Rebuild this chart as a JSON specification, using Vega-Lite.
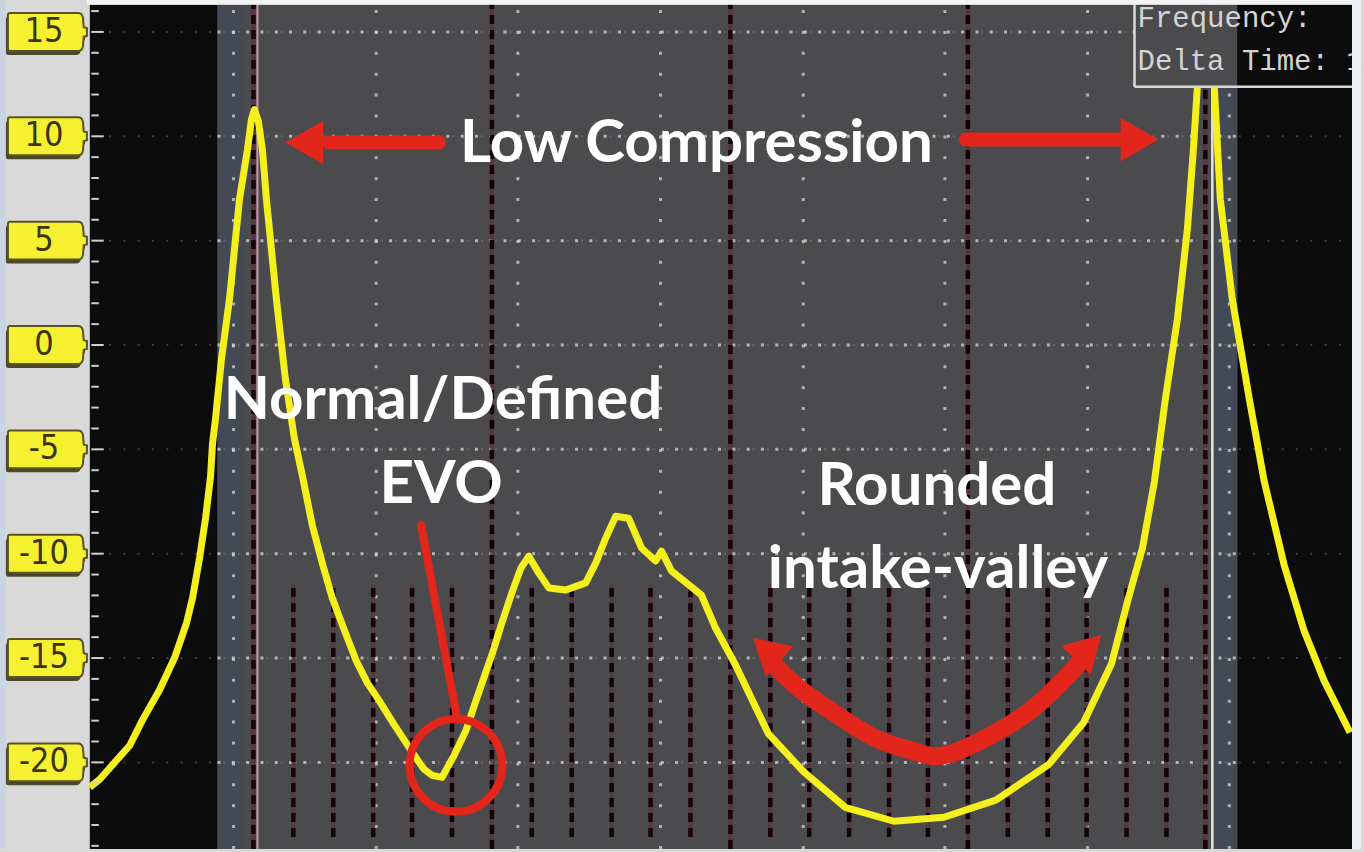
{
  "$schema": "https://vega.github.io/schema/vega-lite/v6.json",
  "width": 1364,
  "height": 852,
  "autosize": {"type": "fit", "contains": "padding"},
  "padding": 0,
  "background": "#d9d9d9",
  "config": {"view": {"stroke": null}},
  "datasets": {
    "trace": [
      {"t": 0, "v": -21.19}, {"t": 2, "v": -20.81}, {"t": 5, "v": -20.0}, {"t": 8, "v": -19.19},
      {"t": 10.6, "v": -17.95}, {"t": 14, "v": -16.52}, {"t": 17, "v": -14.99}, {"t": 19.4, "v": -13.31},
      {"t": 20.6, "v": -12.12}, {"t": 22, "v": -10.21}, {"t": 23.2, "v": -8.30}, {"t": 24.2, "v": -6.30},
      {"t": 24.6, "v": -4.72}, {"t": 25.2, "v": -3.53}, {"t": 26.4, "v": -0.66}, {"t": 28, "v": 2.20},
      {"t": 30, "v": 6.98}, {"t": 31.6, "v": 9.37}, {"t": 32.4, "v": 10.80}, {"t": 33, "v": 11.28},
      {"t": 33.8, "v": 10.70}, {"t": 34.6, "v": 9.37}, {"t": 35.4, "v": 6.98}, {"t": 37.4, "v": 2.20},
      {"t": 39.2, "v": -1.62}, {"t": 41, "v": -4.48}, {"t": 42.6, "v": -6.25}, {"t": 44.6, "v": -8.64},
      {"t": 46.6, "v": -10.45}, {"t": 48.6, "v": -12.12}, {"t": 51, "v": -13.65}, {"t": 53.4, "v": -15.13},
      {"t": 55.6, "v": -16.18}, {"t": 58, "v": -17.04}, {"t": 61, "v": -18.19}, {"t": 64, "v": -19.28},
      {"t": 65.6, "v": -19.86}, {"t": 67, "v": -20.33}, {"t": 68.6, "v": -20.62}, {"t": 70.6, "v": -20.72},
      {"t": 73, "v": -19.67}, {"t": 75.4, "v": -18.47}, {"t": 77.4, "v": -17.04}, {"t": 79, "v": -15.94},
      {"t": 80.6, "v": -14.84}, {"t": 82.6, "v": -13.31}, {"t": 84.6, "v": -11.88}, {"t": 86.4, "v": -10.69},
      {"t": 88, "v": -10.12}, {"t": 90, "v": -10.93}, {"t": 92, "v": -11.64}, {"t": 95.4, "v": -11.74},
      {"t": 99.4, "v": -11.40}, {"t": 101.4, "v": -10.45}, {"t": 103.4, "v": -9.26}, {"t": 105.4, "v": -8.21},
      {"t": 108, "v": -8.30}, {"t": 110.6, "v": -9.73}, {"t": 113.4, "v": -10.35}, {"t": 114.6, "v": -9.88},
      {"t": 116.6, "v": -10.83}, {"t": 119.6, "v": -11.40}, {"t": 122.6, "v": -11.98}, {"t": 125.4, "v": -13.55},
      {"t": 129.4, "v": -15.32}, {"t": 136, "v": -18.62}, {"t": 143, "v": -20.43}, {"t": 151.4, "v": -22.15},
      {"t": 161.2, "v": -22.82}, {"t": 171.2, "v": -22.63}, {"t": 181.6, "v": -21.81}, {"t": 192.2, "v": -20.10},
      {"t": 199.2, "v": -18.09}, {"t": 204.8, "v": -15.27}, {"t": 208.2, "v": -12.12}, {"t": 211, "v": -9.73},
      {"t": 213.4, "v": -6.53}, {"t": 215.6, "v": -2.57}, {"t": 218, "v": 1.25}, {"t": 220, "v": 5.55},
      {"t": 221.2, "v": 9.37}, {"t": 222, "v": 12.37}, {"t": 223, "v": 14.14}, {"t": 224, "v": 14.62},
      {"t": 224.8, "v": 14.14}, {"t": 225.4, "v": 12.37}, {"t": 226.6, "v": 6.98}, {"t": 229, "v": 2.20},
      {"t": 232.4, "v": -2.57}, {"t": 235.4, "v": -6.53}, {"t": 239.4, "v": -10.55}, {"t": 243.4, "v": -13.70},
      {"t": 247.4, "v": -16.08}, {"t": 252.6, "v": -18.57}
    ],
    "grid": [
      {"v": 15, "label": "15"}, {"v": 10, "label": "10"}, {"v": 5, "label": "5"}, {"v": 0, "label": "0"},
      {"v": -5, "label": "-5"}, {"v": -10, "label": "-10"}, {"v": -15, "label": "-15"}, {"v": -20, "label": "-20"}
    ],
    "minor": [
      {"v": 16}, {"v": 14}, {"v": 13}, {"v": 12}, {"v": 11}, {"v": 9}, {"v": 8}, {"v": 7}, {"v": 6},
      {"v": 4}, {"v": 3}, {"v": 2}, {"v": 1}, {"v": -1}, {"v": -2}, {"v": -3}, {"v": -4},
      {"v": -6}, {"v": -7}, {"v": -8}, {"v": -9}, {"v": -11}, {"v": -12}, {"v": -13}, {"v": -14},
      {"v": -16}, {"v": -17}, {"v": -18}, {"v": -19}, {"v": -21}, {"v": -22}, {"v": -23}, {"v": -24}
    ],
    "cols": [
      {"t": 28.8}, {"t": 57.4}, {"t": 85.8}, {"t": 114.4}, {"t": 143}, {"t": 171.4}, {"t": 200}, {"t": 228.4}
    ],
    "tall": [{"t": 32.8}, {"t": 80.6}, {"t": 128.4}, {"t": 176}, {"t": 223.6}],
    "short": [
      {"t": 40.8}, {"t": 48.8}, {"t": 56.8}, {"t": 64.6}, {"t": 72.6},
      {"t": 88.6}, {"t": 96.6}, {"t": 104.6}, {"t": 112.4}, {"t": 120.4},
      {"t": 136.4}, {"t": 144.2}, {"t": 152.2}, {"t": 160.2}, {"t": 168},
      {"t": 184}, {"t": 192}, {"t": 199.8}, {"t": 207.8}, {"t": 215.8}
    ],
    "strips": [{"t1": 25.6, "t2": 31}, {"t1": 225.6, "t2": 230}],
    "shafts": [{"t1": 48, "t2": 70, "v": 9.70}, {"t1": 175.6, "t2": 207, "v": 9.84}],
    "evoline": [{"t": 66.4, "v": -8.64}, {"t": 73.6, "v": -17.85}],
    "arc": [
      {"t": 136.8, "v": -15.22}, {"t": 142, "v": -16.42}, {"t": 150, "v": -17.76}, {"t": 158, "v": -18.90},
      {"t": 166, "v": -19.52}, {"t": 172, "v": -19.62}, {"t": 181.6, "v": -18.57}, {"t": 188, "v": -17.61},
      {"t": 192.2, "v": -16.75}, {"t": 196, "v": -15.85}, {"t": 198.8, "v": -15.08}
    ],
    "notes": [
      {"text": "Low Compression", "t": 121.6, "v": 8.79},
      {"text": "Normal/Defined", "t": 70.8, "v": -3.53},
      {"text": "EVO", "t": 70.4, "v": -7.58},
      {"text": "Rounded", "t": 169.8, "v": -7.68},
      {"text": "intake-valley", "t": 170, "v": -11.64}
    ],
    "readout": [
      {"text": "Frequency:", "t": 210, "v": 15.24},
      {"text": "Delta Time: 1", "t": 210, "v": 13.19}
    ]
  },
  "layer": [
    {
      "data": {"values": [{}]},
      "mark": {"type": "rect", "color": "#c9d5e2"},
      "encoding": {
        "x": {"datum": -18, "type": "quantitative", "scale": {"domain": [-18, 254.8], "nice": false, "zero": false}, "axis": null},
        "x2": {"datum": -16.8},
        "y": {"datum": -24.15, "type": "quantitative", "scale": {"domain": [-24.15, 16.53], "nice": false, "zero": false}, "axis": null},
        "y2": {"datum": 16.53}
      }
    },
    {
      "data": {"values": [{}]},
      "mark": {"type": "rect", "color": "#0c0c0d"},
      "encoding": {
        "x": {"datum": 0, "type": "quantitative", "scale": {"domain": [-18, 254.8], "nice": false, "zero": false}, "axis": null},
        "x2": {"datum": 253},
        "y": {"datum": -24.15, "type": "quantitative", "scale": {"domain": [-24.15, 16.53], "nice": false, "zero": false}, "axis": null},
        "y2": {"datum": 16.3}
      }
    },
    {
      "data": {"values": [{}]},
      "mark": {"type": "rect", "color": "#4b4b4e"},
      "encoding": {
        "x": {"datum": 25.6, "type": "quantitative", "scale": {"domain": [-18, 254.8], "nice": false, "zero": false}, "axis": null},
        "x2": {"datum": 230},
        "y": {"datum": -24.15, "type": "quantitative", "scale": {"domain": [-24.15, 16.53], "nice": false, "zero": false}, "axis": null},
        "y2": {"datum": 16.3}
      }
    },
    {
      "data": {"name": "strips"},
      "mark": {"type": "rect", "color": "#434a55"},
      "encoding": {
        "x": {"field": "t1", "type": "quantitative", "scale": {"domain": [-18, 254.8], "nice": false, "zero": false}, "axis": null},
        "x2": {"field": "t2"},
        "y": {"datum": -24.15, "type": "quantitative", "scale": {"domain": [-24.15, 16.53], "nice": false, "zero": false}, "axis": null},
        "y2": {"datum": 16.3}
      }
    },
    {
      "data": {"name": "grid"},
      "mark": {"type": "rule", "color": "#9a9a9a", "strokeWidth": 2, "strokeDash": [2, 12.3], "opacity": 0.35},
      "encoding": {
        "x": {"datum": 1, "type": "quantitative", "scale": {"domain": [-18, 254.8], "nice": false, "zero": false}, "axis": null},
        "x2": {"datum": 253},
        "y": {"field": "v", "type": "quantitative", "scale": {"domain": [-24.15, 16.53], "nice": false, "zero": false}, "axis": null}
      }
    },
    {
      "data": {"name": "grid"},
      "mark": {"type": "rule", "color": "#d8d8d8", "strokeWidth": 3, "strokeDash": [3, 11.3], "opacity": 0.75},
      "encoding": {
        "x": {"datum": 25.6, "type": "quantitative", "scale": {"domain": [-18, 254.8], "nice": false, "zero": false}, "axis": null},
        "x2": {"datum": 230},
        "y": {"field": "v", "type": "quantitative", "scale": {"domain": [-24.15, 16.53], "nice": false, "zero": false}, "axis": null}
      }
    },
    {
      "data": {"name": "cols"},
      "mark": {"type": "rule", "color": "#d4d4d4", "strokeWidth": 3, "strokeDash": [3, 17.9], "opacity": 0.75},
      "encoding": {
        "x": {"field": "t", "type": "quantitative", "scale": {"domain": [-18, 254.8], "nice": false, "zero": false}, "axis": null},
        "y": {"datum": -24.15, "type": "quantitative", "scale": {"domain": [-24.15, 16.53], "nice": false, "zero": false}, "axis": null},
        "y2": {"datum": 16.3}
      }
    },
    {
      "data": {"values": [{}]},
      "mark": {"type": "rule", "color": "#c89aa5", "strokeWidth": 2},
      "encoding": {
        "x": {"datum": 33.6, "type": "quantitative", "scale": {"domain": [-18, 254.8], "nice": false, "zero": false}, "axis": null},
        "y": {"datum": -24.15, "type": "quantitative", "scale": {"domain": [-24.15, 16.53], "nice": false, "zero": false}, "axis": null},
        "y2": {"datum": 16.3}
      }
    },
    {
      "data": {"name": "tall"},
      "mark": {"type": "rule", "color": "#5e2a3a", "strokeWidth": 4, "opacity": 0.7},
      "encoding": {
        "x": {"field": "t", "type": "quantitative", "scale": {"domain": [-18, 254.8], "nice": false, "zero": false}, "axis": null},
        "y": {"datum": -24.15, "type": "quantitative", "scale": {"domain": [-24.15, 16.53], "nice": false, "zero": false}, "axis": null},
        "y2": {"datum": 16.3}
      }
    },
    {
      "data": {"name": "tall"},
      "mark": {"type": "rule", "color": "#14040a", "strokeWidth": 4.5, "strokeDash": [9, 6]},
      "encoding": {
        "x": {"field": "t", "type": "quantitative", "scale": {"domain": [-18, 254.8], "nice": false, "zero": false}, "axis": null},
        "y": {"datum": -24.15, "type": "quantitative", "scale": {"domain": [-24.15, 16.53], "nice": false, "zero": false}, "axis": null},
        "y2": {"datum": 16.3}
      }
    },
    {
      "data": {"name": "short"},
      "mark": {"type": "rule", "color": "#5e2a3a", "strokeWidth": 4, "opacity": 0.6},
      "encoding": {
        "x": {"field": "t", "type": "quantitative", "scale": {"domain": [-18, 254.8], "nice": false, "zero": false}, "axis": null},
        "y": {"datum": -23.58, "type": "quantitative", "scale": {"domain": [-24.15, 16.53], "nice": false, "zero": false}, "axis": null},
        "y2": {"datum": -11.5}
      }
    },
    {
      "data": {"name": "short"},
      "mark": {"type": "rule", "color": "#14040a", "strokeWidth": 4.5, "strokeDash": [9, 6]},
      "encoding": {
        "x": {"field": "t", "type": "quantitative", "scale": {"domain": [-18, 254.8], "nice": false, "zero": false}, "axis": null},
        "y": {"datum": -23.58, "type": "quantitative", "scale": {"domain": [-24.15, 16.53], "nice": false, "zero": false}, "axis": null},
        "y2": {"datum": -11.5}
      }
    },
    {
      "data": {"values": [{}]},
      "mark": {"type": "rule", "color": "#e8e2e2", "strokeWidth": 2.5},
      "encoding": {
        "x": {"datum": 225, "type": "quantitative", "scale": {"domain": [-18, 254.8], "nice": false, "zero": false}, "axis": null},
        "y": {"datum": -24.15, "type": "quantitative", "scale": {"domain": [-24.15, 16.53], "nice": false, "zero": false}, "axis": null},
        "y2": {"datum": 12.37}
      }
    },
    {
      "data": {"name": "trace"},
      "mark": {"type": "line", "color": "#f4f01e", "strokeWidth": 7, "strokeJoin": "round"},
      "encoding": {
        "x": {"field": "t", "type": "quantitative", "scale": {"domain": [-18, 254.8], "nice": false, "zero": false}, "axis": null},
        "y": {"field": "v", "type": "quantitative", "scale": {"domain": [-24.15, 16.53], "nice": false, "zero": false}, "axis": null}
      }
    },
    {
      "data": {"name": "shafts"},
      "mark": {"type": "rule", "color": "#e3261b", "strokeWidth": 14, "strokeCap": "round"},
      "encoding": {
        "x": {"field": "t1", "type": "quantitative", "scale": {"domain": [-18, 254.8], "nice": false, "zero": false}, "axis": null},
        "x2": {"field": "t2"},
        "y": {"field": "v", "type": "quantitative", "scale": {"domain": [-24.15, 16.53], "nice": false, "zero": false}, "axis": null}
      }
    },
    {
      "data": {"values": [{}]},
      "mark": {"type": "point", "shape": "triangle-left", "size": 1900, "filled": true, "color": "#e3261b", "opacity": 1},
      "encoding": {
        "x": {"datum": 43, "type": "quantitative", "scale": {"domain": [-18, 254.8], "nice": false, "zero": false}, "axis": null},
        "y": {"datum": 9.70, "type": "quantitative", "scale": {"domain": [-24.15, 16.53], "nice": false, "zero": false}, "axis": null}
      }
    },
    {
      "data": {"values": [{}]},
      "mark": {"type": "point", "shape": "triangle-right", "size": 1900, "filled": true, "color": "#e3261b", "opacity": 1},
      "encoding": {
        "x": {"datum": 210.4, "type": "quantitative", "scale": {"domain": [-18, 254.8], "nice": false, "zero": false}, "axis": null},
        "y": {"datum": 9.84, "type": "quantitative", "scale": {"domain": [-24.15, 16.53], "nice": false, "zero": false}, "axis": null}
      }
    },
    {
      "data": {"name": "evoline"},
      "mark": {"type": "line", "color": "#e3261b", "strokeWidth": 8, "strokeCap": "round"},
      "encoding": {
        "x": {"field": "t", "type": "quantitative", "scale": {"domain": [-18, 254.8], "nice": false, "zero": false}, "axis": null},
        "y": {"field": "v", "type": "quantitative", "scale": {"domain": [-24.15, 16.53], "nice": false, "zero": false}, "axis": null}
      }
    },
    {
      "data": {"values": [{}]},
      "mark": {"type": "point", "shape": "circle", "size": 8600, "filled": false, "color": "#e3261b", "strokeWidth": 8, "opacity": 1},
      "encoding": {
        "x": {"datum": 73.4, "type": "quantitative", "scale": {"domain": [-18, 254.8], "nice": false, "zero": false}, "axis": null},
        "y": {"datum": -20.14, "type": "quantitative", "scale": {"domain": [-24.15, 16.53], "nice": false, "zero": false}, "axis": null}
      }
    },
    {
      "data": {"name": "arc"},
      "mark": {"type": "line", "color": "#e3261b", "strokeWidth": 18, "interpolate": "natural", "strokeCap": "round"},
      "encoding": {
        "x": {"field": "t", "type": "quantitative", "scale": {"domain": [-18, 254.8], "nice": false, "zero": false}, "axis": null},
        "y": {"field": "v", "type": "quantitative", "scale": {"domain": [-24.15, 16.53], "nice": false, "zero": false}, "axis": null}
      }
    },
    {
      "data": {"values": [{}]},
      "mark": {"type": "point", "shape": "triangle-up", "size": 1700, "angle": -48, "filled": true, "color": "#e3261b", "opacity": 1},
      "encoding": {
        "x": {"datum": 135.6, "type": "quantitative", "scale": {"domain": [-18, 254.8], "nice": false, "zero": false}, "axis": null},
        "y": {"datum": -14.6, "type": "quantitative", "scale": {"domain": [-24.15, 16.53], "nice": false, "zero": false}, "axis": null}
      }
    },
    {
      "data": {"values": [{}]},
      "mark": {"type": "point", "shape": "triangle-up", "size": 1700, "angle": 45, "filled": true, "color": "#e3261b", "opacity": 1},
      "encoding": {
        "x": {"datum": 200.2, "type": "quantitative", "scale": {"domain": [-18, 254.8], "nice": false, "zero": false}, "axis": null},
        "y": {"datum": -14.5, "type": "quantitative", "scale": {"domain": [-24.15, 16.53], "nice": false, "zero": false}, "axis": null}
      }
    },
    {
      "data": {"name": "notes"},
      "mark": {"type": "text", "color": "#ffffff", "font": "Lato", "fontWeight": "bold", "fontSize": 60, "align": "center", "baseline": "alphabetic"},
      "encoding": {
        "x": {"field": "t", "type": "quantitative", "scale": {"domain": [-18, 254.8], "nice": false, "zero": false}, "axis": null},
        "y": {"field": "v", "type": "quantitative", "scale": {"domain": [-24.15, 16.53], "nice": false, "zero": false}, "axis": null},
        "text": {"field": "text"}
      }
    },
    {
      "data": {"values": [{}]},
      "mark": {"type": "rect", "color": "#4b4b4e"},
      "encoding": {
        "x": {"datum": 209.4, "type": "quantitative", "scale": {"domain": [-18, 254.8], "nice": false, "zero": false}, "axis": null},
        "x2": {"datum": 230},
        "y": {"datum": 12.37, "type": "quantitative", "scale": {"domain": [-24.15, 16.53], "nice": false, "zero": false}, "axis": null},
        "y2": {"datum": 16.3}
      }
    },
    {
      "data": {"values": [{}]},
      "mark": {"type": "rect", "color": "#0c0c0d"},
      "encoding": {
        "x": {"datum": 230, "type": "quantitative", "scale": {"domain": [-18, 254.8], "nice": false, "zero": false}, "axis": null},
        "x2": {"datum": 253},
        "y": {"datum": 12.37, "type": "quantitative", "scale": {"domain": [-24.15, 16.53], "nice": false, "zero": false}, "axis": null},
        "y2": {"datum": 16.3}
      }
    },
    {
      "data": {"values": [{}]},
      "mark": {"type": "rule", "color": "#d8d8d8", "strokeWidth": 2.5},
      "encoding": {
        "x": {"datum": 209.4, "type": "quantitative", "scale": {"domain": [-18, 254.8], "nice": false, "zero": false}, "axis": null},
        "y": {"datum": 12.37, "type": "quantitative", "scale": {"domain": [-24.15, 16.53], "nice": false, "zero": false}, "axis": null},
        "y2": {"datum": 16.3}
      }
    },
    {
      "data": {"values": [{}]},
      "mark": {"type": "rule", "color": "#d8d8d8", "strokeWidth": 2.5},
      "encoding": {
        "x": {"datum": 209.4, "type": "quantitative", "scale": {"domain": [-18, 254.8], "nice": false, "zero": false}, "axis": null},
        "x2": {"datum": 253},
        "y": {"datum": 12.37, "type": "quantitative", "scale": {"domain": [-24.15, 16.53], "nice": false, "zero": false}, "axis": null}
      }
    },
    {
      "data": {"name": "readout"},
      "mark": {"type": "text", "color": "#d4d4d4", "font": "Liberation Mono", "fontSize": 29, "align": "left", "baseline": "alphabetic"},
      "encoding": {
        "x": {"field": "t", "type": "quantitative", "scale": {"domain": [-18, 254.8], "nice": false, "zero": false}, "axis": null},
        "y": {"field": "v", "type": "quantitative", "scale": {"domain": [-24.15, 16.53], "nice": false, "zero": false}, "axis": null},
        "text": {"field": "text"}
      }
    },
    {
      "data": {"values": [{}]},
      "mark": {"type": "rect", "color": "#f3f3f3"},
      "encoding": {
        "x": {"datum": -0.6, "type": "quantitative", "scale": {"domain": [-18, 254.8], "nice": false, "zero": false}, "axis": null},
        "x2": {"datum": 254.8},
        "y": {"datum": 16.3, "type": "quantitative", "scale": {"domain": [-24.15, 16.53], "nice": false, "zero": false}, "axis": null},
        "y2": {"datum": 16.53}
      }
    },
    {
      "data": {"values": [{}]},
      "mark": {"type": "rect", "color": "#edf1f6"},
      "encoding": {
        "x": {"datum": 253, "type": "quantitative", "scale": {"domain": [-18, 254.8], "nice": false, "zero": false}, "axis": null},
        "x2": {"datum": 254.8},
        "y": {"datum": -24.15, "type": "quantitative", "scale": {"domain": [-24.15, 16.53], "nice": false, "zero": false}, "axis": null},
        "y2": {"datum": 16.53}
      }
    },
    {
      "data": {"name": "minor"},
      "mark": {"type": "rule", "color": "#cfcfcf", "strokeWidth": 2},
      "encoding": {
        "x": {"datum": 0.3, "type": "quantitative", "scale": {"domain": [-18, 254.8], "nice": false, "zero": false}, "axis": null},
        "x2": {"datum": 1.8},
        "y": {"field": "v", "type": "quantitative", "scale": {"domain": [-24.15, 16.53], "nice": false, "zero": false}, "axis": null}
      }
    },
    {
      "data": {"name": "grid"},
      "mark": {"type": "rule", "color": "#cfcfcf", "strokeWidth": 2},
      "encoding": {
        "x": {"datum": 0.3, "type": "quantitative", "scale": {"domain": [-18, 254.8], "nice": false, "zero": false}, "axis": null},
        "x2": {"datum": 2.8},
        "y": {"field": "v", "type": "quantitative", "scale": {"domain": [-24.15, 16.53], "nice": false, "zero": false}, "axis": null}
      }
    },
    {
      "data": {"name": "grid"},
      "mark": {"type": "point", "shape": "M-0.95,-0.48 L0.78,-0.48 Q0.88,-0.48 0.9,-0.36 L0.92,-0.12 L1,-0.1 L1,0.1 L0.92,0.12 L0.9,0.36 Q0.88,0.48 0.78,0.48 L-0.95,0.48 Q-1,0.48 -1,0.42 L-1,-0.42 Q-1,-0.48 -0.95,-0.48 Z", "size": 6241, "filled": true, "color": "#4d4828", "opacity": 1, "xOffset": -2, "yOffset": 4},
      "encoding": {
        "x": {"datum": -8.5, "type": "quantitative", "scale": {"domain": [-18, 254.8], "nice": false, "zero": false}, "axis": null},
        "y": {"field": "v", "type": "quantitative", "scale": {"domain": [-24.15, 16.53], "nice": false, "zero": false}, "axis": null}
      }
    },
    {
      "data": {"name": "grid"},
      "mark": {"type": "point", "shape": "M-0.95,-0.48 L0.78,-0.48 Q0.88,-0.48 0.9,-0.36 L0.92,-0.12 L1,-0.1 L1,0.1 L0.92,0.12 L0.9,0.36 Q0.88,0.48 0.78,0.48 L-0.95,0.48 Q-1,0.48 -1,0.42 L-1,-0.42 Q-1,-0.48 -0.95,-0.48 Z", "size": 6241, "filled": true, "fill": "#f6f130", "stroke": "#5a5222", "strokeWidth": 2, "opacity": 1},
      "encoding": {
        "x": {"datum": -8.5, "type": "quantitative", "scale": {"domain": [-18, 254.8], "nice": false, "zero": false}, "axis": null},
        "y": {"field": "v", "type": "quantitative", "scale": {"domain": [-24.15, 16.53], "nice": false, "zero": false}, "axis": null}
      }
    },
    {
      "data": {"name": "grid"},
      "mark": {"type": "text", "color": "#3a3410", "font": "Liberation Sans Narrow, DejaVu Sans Condensed, sans-serif", "fontSize": 34, "align": "center", "baseline": "middle"},
      "encoding": {
        "x": {"datum": -9.2, "type": "quantitative", "scale": {"domain": [-18, 254.8], "nice": false, "zero": false}, "axis": null},
        "y": {"field": "v", "type": "quantitative", "scale": {"domain": [-24.15, 16.53], "nice": false, "zero": false}, "axis": null},
        "text": {"field": "label"}
      }
    }
  ]
}
